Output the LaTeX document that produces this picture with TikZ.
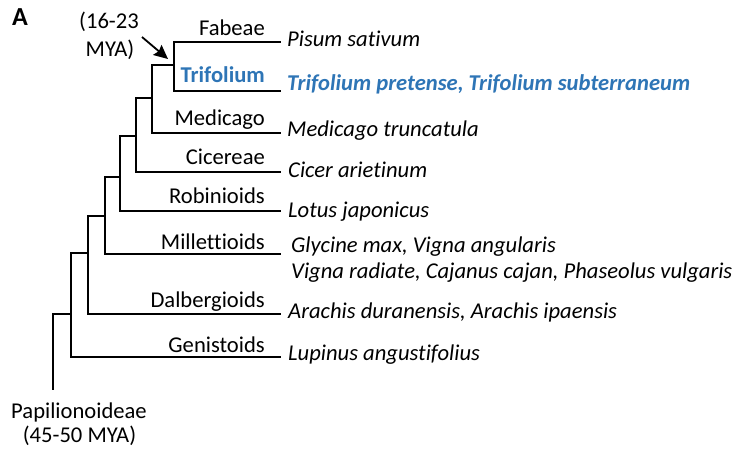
\documentclass[tikz,border=0pt]{standalone}
\usepackage{fontspec}
\setmainfont{Carlito}[Ligatures=CommonOff]
\usetikzlibrary{arrows.meta}
\definecolor{triblue}{RGB}{46,117,182}
\newcommand{\txtsize}{\fontsize{22.6}{26}\selectfont}
\tikzset{
  branch/.style={draw=black, line width=1.8pt, line cap=rect, line join=miter},
  clade/.style={anchor=base east, inner sep=0pt, font=\txtsize},
  species/.style={anchor=base west, inner sep=0pt, font=\txtsize\itshape},
  plain/.style={inner sep=0pt, font=\txtsize, align=center},
  agearrow/.style={line width=1.8pt, -{Stealth[length=14pt,width=13pt,inset=2pt]}}
}
\begin{document}
\begin{tikzpicture}[x=1pt,y=-1pt]
\useasboundingbox (0,0) rectangle (738,450);
% tips
\coordinate (tFab) at (280,41.7);
\coordinate (tTri) at (280,90.7);
\coordinate (tMed) at (280,133);
\coordinate (tCic) at (280,171.7);
\coordinate (tRob) at (280,210.7);
\coordinate (tMil) at (280,254);
\coordinate (tDal) at (280,314);
\coordinate (tGen) at (280,356.7);
% internal nodes
\coordinate (n1) at (174,65);
\coordinate (n2) at (152,97.7);
\coordinate (n3) at (136,136);
\coordinate (n4) at (120,176.7);
\coordinate (n5) at (105,215.7);
\coordinate (n6) at (88,253.3);
\coordinate (n7) at (70.7,314);
\coordinate (root) at (52.7,389);
% branches
\draw[branch] (tFab) -| (n1) |- (tTri);
\draw[branch] (n1) -| (n2) |- (tMed);
\draw[branch] (n2) -| (n3) |- (tCic);
\draw[branch] (n3) -| (n4) |- (tRob);
\draw[branch] (n4) -| (n5) |- (tMil);
\draw[branch] (n5) -| (n6) |- (tDal);
\draw[branch] (n6) -| (n7) |- (tGen);
\draw[branch] (n7) -| (root);
% clade labels
\node[clade] (lFab) at (265,35) {Fabeae};
\node[clade, text=triblue, font=\txtsize\bfseries] (lTri) at (265,82) {Trifolium};
\node[clade] (lMed) at (265,125) {Medicago};
\node[clade] (lCic) at (265,164) {Cicereae};
\node[clade] (lRob) at (265,203) {Robinioids};
\node[clade] (lMil) at (265,249) {Millettioids};
\node[clade] (lDal) at (265,307) {Dalbergioids};
\node[clade] (lGen) at (265,352) {Genistoids};
% species
\node[species] (sFab) at (287,46) {Pisum sativum};
\node[species, text=triblue, font=\txtsize\bfseries\itshape] (sTri) at (287,90) {Trifolium pretense, Trifolium subterraneum};
\node[species] (sMed) at (287,136) {Medicago truncatula};
\node[species] (sCic) at (288,177) {Cicer arietinum};
\node[species] (sRob) at (288,217) {Lotus japonicus};
\node[species] (sMil) at (291,252) {Glycine max, Vigna angularis};
\node[species] (sMil2) at (291,278) {Vigna radiate, Cajanus cajan, Phaseolus vulgaris};
\node[species] (sDal) at (288,318) {Arachis duranensis, Arachis ipaensis};
\node[species] (sGen) at (288,360) {Lupinus angustifolius};
% root label
\node[plain, anchor=base] (papi) at (79,418) {Papilionoideae};
\node[plain, anchor=base] (papiage) at (79.5,442) {(45-50 MYA)};
% age annotation
\node[plain, anchor=base] (age1) at (109,28) {(16-23};
\node[plain, anchor=base] (age2) at (110,56) {MYA)};
\coordinate (agetail) at (142,37);
\coordinate (agetip) at (168,59);
\draw[agearrow] (agetail) -- (agetip);
% panel letter
\node[inner sep=0pt, anchor=base west, font=\fontsize{26}{28}\selectfont\bfseries] (panel) at (12,25) {A};
\end{tikzpicture}
\end{document}
